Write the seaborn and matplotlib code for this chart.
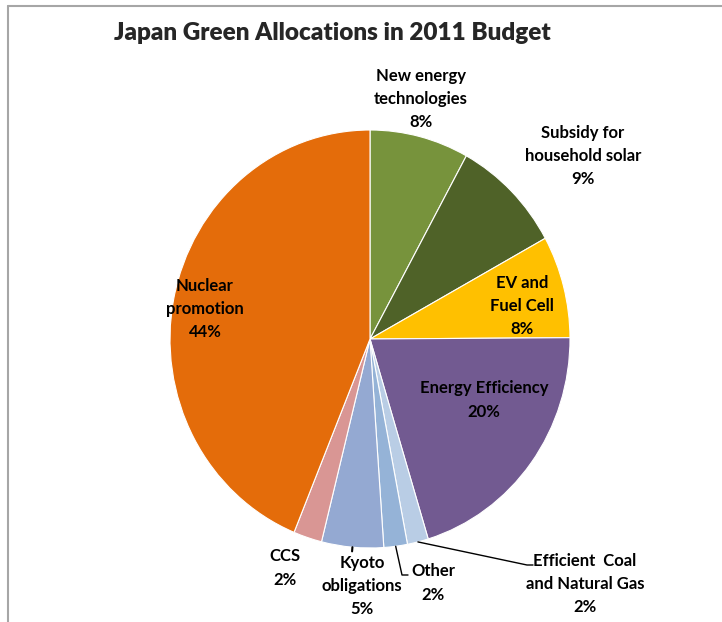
import numpy as np
import matplotlib
matplotlib.use("Agg")
import matplotlib.pyplot as plt
import seaborn as sns
from matplotlib.lines import Line2D

# data (shares of the 2011 green budget, %)
categories = ["New energy\ntechnologies", "Subsidy for\nhousehold solar", "EV and\nFuel Cell",
              "Energy Efficiency", "Efficient  Coal\nand Natural Gas", "Other",
              "Kyoto\nobligations", "CCS", "Nuclear\npromotion"]
shares = [8.0, 9.0, 7.9, 20.4, 1.7, 1.9, 5.0, 2.3, 43.8]
colors = ["#77933C", "#4F6228", "#FFC000", "#725A91", "#B9CDE5",
          "#95B3D7", "#94A9D2", "#D99694", "#E46C0A"]

sns.set_theme(style="white")
plt.rcParams["font.family"] = ["Lato", "DejaVu Sans"]

W, H = 722, 622
CX, CY, RX, RY = 370, 339, 200, 209   # pie centre / radius in pixels


def px(x, y):
    # pixel position -> data coords (pie radius = 1)
    return (x - CX) / RX, (CY - y) / RY


fig = plt.figure(figsize=(W / 100, H / 100), dpi=100)
ax = fig.add_axes([0, 0, 1, 1])

wedges, _ = ax.pie(shares, colors=colors, startangle=90, counterclock=False,
                   wedgeprops=dict(edgecolor="white", linewidth=0.8))
ax.set_aspect("auto")
x0, y1 = px(0, 0)
x1, y0 = px(W, H)
ax.set_xlim(x0, x1)
ax.set_ylim(y0, y1)
ax.axis("off")

# label centres in pixels
label_pos = [(421, 99), (583, 156), (522, 306), (484, 400), (585, 584),
             (433, 583), (362, 586), (285, 568), (205, 309)]

for name, v, (lx, ly) in zip(categories, shares, label_pos):
    tx, ty = px(lx, ly)
    ax.text(tx, ty, f"{name}\n{round(v)}%", ha="center", va="center",
            fontsize=12, fontweight="bold", color="black", linespacing=1.57)


def edge_point(w, r=1.0):
    a = np.deg2rad((w.theta1 + w.theta2) / 2)
    return r * np.cos(a), r * np.sin(a)


# leader lines
ex, ey = edge_point(wedges[4])
bx, by = px(527, 565)
cx, cy = px(533, 565)
ax.plot([ex, bx, cx], [ey, by, cy], color="black", lw=1)

ex, ey = edge_point(wedges[5])
bx, by = px(402, 575)
cx, cy = px(408, 575)
ax.plot([ex, bx, cx], [ey, by, cy], color="black", lw=1)

ex, ey = edge_point(wedges[6], 1.0)
fx, fy = edge_point(wedges[6], 1.02)
ax.plot([ex, fx], [ey, fy], color="black", lw=1.5)

fig.text(332 / W, 1 - 33 / H, "Japan Green Allocations in 2011 Budget",
         ha="center", va="center", fontsize=17.5, fontweight="heavy")

# outer chart frame (partly cropped)
fig.add_artist(Line2D([8 / W, 1], [1 - 6 / H, 1 - 6 / H], color="#A6A6A6", lw=1.5))
fig.add_artist(Line2D([8 / W, 8 / W], [0, 1 - 6 / H], color="#A6A6A6", lw=1.5))

fig.savefig("out.png", dpi=100)
